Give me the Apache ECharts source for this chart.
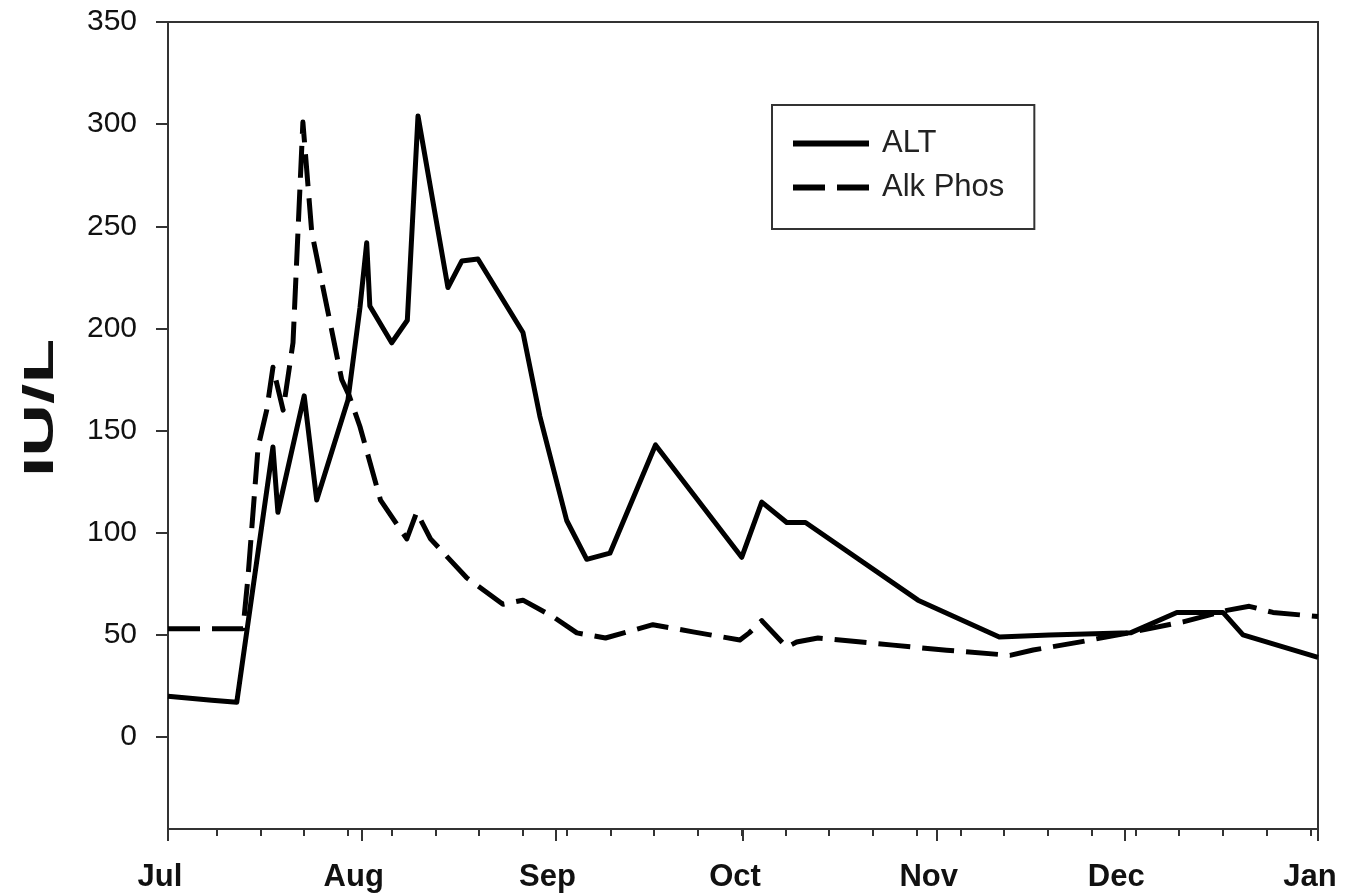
<!DOCTYPE html>
<html>
<head>
<meta charset="utf-8">
<script src="https://cdn.jsdelivr.net/npm/echarts@6/dist/echarts.min.js"></script>
<style>
  html, body { margin: 0; padding: 0; background: #fff; }
  #chart { width: 1355px; height: 896px; }
</style>
</head>
<body>
<div id="chart"></div>
<script>
// ---- data ----
const altDates = ['2007-07-01 00:00','2007-07-08 00:00','2007-07-12 00:00','2007-07-17 19:00','2007-07-18 14:00',
  '2007-07-22 19:00','2007-07-24 19:00','2007-07-29 19:00','2007-07-31 17:00','2007-08-01 19:00','2007-08-02 07:00',
  '2007-08-05 19:00','2007-08-08 07:00','2007-08-10 00:00','2007-08-14 19:00','2007-08-17 00:00',
  '2007-08-19 14:00','2007-08-26 19:00','2007-08-29 12:00','2007-09-02 19:00','2007-09-06 00:00',
  '2007-09-09 17:00','2007-09-17 00:00','2007-09-30 19:00','2007-10-04 00:00','2007-10-08 00:00',
  '2007-10-11 00:00','2007-10-29 00:00','2007-11-11 00:00','2007-11-19 00:00','2007-12-02 00:00',
  '2007-12-09 10:00','2007-12-16 19:00','2007-12-20 00:00','2008-01-01 00:00'];
const altValues = [20, 18, 17, 142, 110,
  167, 116, 165, 210, 242, 211,
  193, 204, 304, 220, 233,
  234, 198, 157, 106, 87,
  90, 143, 88, 115, 105,
  105, 67, 49, 50, 51,
  61, 61, 50, 39];

const alpDates = ['2007-07-01 00:00','2007-07-13 00:00','2007-07-13 19:00','2007-07-15 10:00','2007-07-16 19:00',
  '2007-07-17 19:00','2007-07-19 10:00','2007-07-21 00:00','2007-07-22 14:00','2007-07-24 00:00',
  '2007-07-28 19:00','2007-07-30 00:00','2007-07-31 17:00','2007-08-04 00:00','2007-08-08 05:00',
  '2007-08-09 19:00','2007-08-12 00:00','2007-08-17 19:00','2007-08-23 14:00','2007-08-26 19:00',
  '2007-08-31 14:00','2007-09-04 10:00','2007-09-09 00:00','2007-09-16 14:00','2007-09-23 00:00',
  '2007-09-30 12:00','2007-10-02 00:00','2007-10-04 00:00','2007-10-08 00:00','2007-10-09 14:00',
  '2007-10-13 00:00','2007-10-25 00:00','2007-11-02 14:00','2007-11-12 17:00','2007-11-16 10:00',
  '2007-11-24 00:00','2007-12-02 12:00','2007-12-10 10:00','2007-12-17 10:00','2007-12-21 00:00',
  '2007-12-24 19:00','2008-01-01 00:00'];
const alpValues = [53, 53, 78, 142, 160,
  181, 160, 193, 301, 247,
  175, 167, 152, 116, 97,
  110, 97, 78, 65, 67,
  59, 51, 48.5, 55, 51.5,
  47.5, 51, 57, 44, 46.5,
  48.5, 45, 42.5, 40, 42.6,
  46.6, 51.5, 56.4, 62, 64,
  61, 59];

const monthTicks = ['2007-07-01','2007-08-01','2007-09-01','2007-10-01','2007-11-01','2007-12-01','2008-01-01'];
const monthNames = ['Jul','Aug','Sep','Oct','Nov','Dec','Jan'];
const yTicks = [0, 50, 100, 150, 200, 250, 300, 350];
const seriesNames = ['ALT', 'Alk Phos'];
const yTitle = 'IU/L';

// ---- chart ----
const toTs = s => Date.UTC(+s.slice(0, 4), +s.slice(5, 7) - 1, +s.slice(8, 10),
  s.length > 10 ? +s.slice(11, 13) : 0, s.length > 10 ? +s.slice(14, 16) : 0);
const monthTs = monthTicks.map(toTs);
const DAY = 86400000;
const weekStart = toTs('2007-07-08 19:00');
const weekTs = [];
for (let t = weekStart; t < monthTs[monthTs.length - 1]; t += 7 * DAY) weekTs.push(t);

const chart = echarts.init(document.getElementById('chart'), null, { renderer: 'canvas' });
const font = '"Liberation Sans", Arial, sans-serif';
const DASH = [32, 12];

const xBase = {
  type: 'value',
  min: monthTs[0],
  max: monthTs[monthTs.length - 1],
  splitLine: { show: false },
  position: 'bottom'
};

chart.setOption({
  animation: false,
  backgroundColor: '#fff',
  grid: {
    left: 168, right: 37, top: 22, bottom: 67,
    show: true, borderColor: '#333', borderWidth: 2, containLabel: false
  },
  legend: {
    orient: 'vertical',
    left: 772, top: 105,
    padding: [23, 30, 26, 18],
    itemGap: 13,
    itemWidth: 76, itemHeight: 16,
    borderColor: '#333', borderWidth: 2,
    itemStyle: { opacity: 0 },
    textStyle: { fontFamily: font, fontSize: 31, color: '#222', padding: [0, 0, 0, 8] },
    data: [
      { name: seriesNames[0], lineStyle: { width: 6, type: 'solid', color: '#000' } },
      { name: seriesNames[1], lineStyle: { width: 6, type: DASH, color: '#000' } }
    ]
  },
  xAxis: [
    Object.assign({}, xBase, {
      axisLine: { show: true, onZero: false, lineStyle: { color: '#333', width: 2 } },
      axisTick: { show: true, length: 12, lineStyle: { color: '#333', width: 2 }, customValues: monthTs },
      axisLabel: {
        customValues: monthTs,
        formatter: v => { const i = monthTs.indexOf(v); return i >= 0 ? monthNames[i] : ''; },
        fontFamily: font, fontSize: 31, fontWeight: 'bold', color: '#111',
        margin: 33, padding: [0, 16, 0, 0]
      }
    }),
    Object.assign({}, xBase, {
      axisLine: { show: false, onZero: false },
      axisTick: { show: true, length: 7, lineStyle: { color: '#333', width: 2 }, customValues: weekTs },
      axisLabel: { show: false }
    })
  ],
  yAxis: {
    type: 'value',
    min: -45, max: 350,
    splitLine: { show: false },
    axisLine: { show: true, onZero: false, lineStyle: { color: '#333', width: 2 } },
    axisTick: { show: true, length: 12, lineStyle: { color: '#333', width: 2 }, customValues: yTicks },
    axisLabel: {
      customValues: yTicks,
      fontFamily: font, fontSize: 30, color: '#111', margin: 31
    }
  },
  graphic: [{
    type: 'text',
    x: 41, y: 408,
    rotation: Math.PI / 2,
    scaleX: 1.7,
    style: {
      text: yTitle, fontFamily: font, fontSize: 43, fontWeight: 'bold', fill: '#111',
      align: 'center', verticalAlign: 'middle'
    }
  }],
  series: [
    {
      name: seriesNames[0], type: 'line', xAxisIndex: 0,
      data: altDates.map((d, i) => [toTs(d), altValues[i]]),
      symbol: 'none', smooth: false,
      lineStyle: { color: '#000', width: 5, join: 'round' },
      itemStyle: { color: '#000' }
    },
    {
      name: seriesNames[1], type: 'line', xAxisIndex: 0,
      data: alpDates.map((d, i) => [toTs(d), alpValues[i]]),
      symbol: 'none', smooth: false,
      lineStyle: { color: '#000', width: 5, type: DASH, join: 'round' },
      itemStyle: { color: '#000' }
    }
  ]
});
</script>
</body>
</html>
